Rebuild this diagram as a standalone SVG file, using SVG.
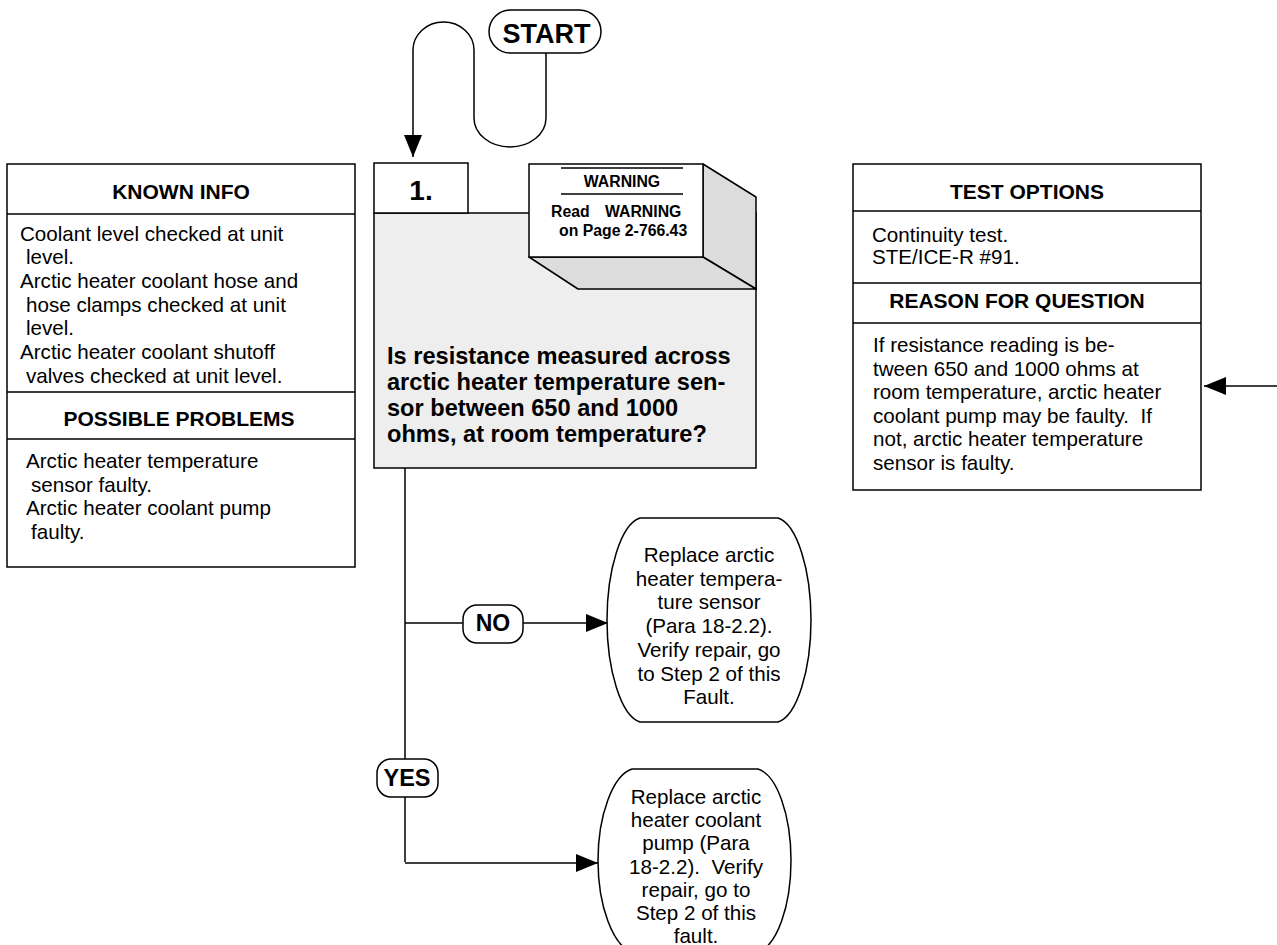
<svg xmlns="http://www.w3.org/2000/svg" width="1277" height="945" viewBox="0 0 1277 945">
  <style>
    text { font-family: "Liberation Sans", Arial, Helvetica, sans-serif; fill: #000; white-space: pre; }
    .body { font-size: 20.6px; }
    .hdr { font-size: 21px; font-weight: bold; text-anchor: middle; }
    .q { font-size: 23.6px; font-weight: bold; }
    .warn { font-size: 15.8px; font-weight: bold; }
    .pill-t { font-weight: bold; text-anchor: middle; }
    .term-t { font-size: 20.6px; text-anchor: middle; }
    .box { fill: #fff; stroke: #000; stroke-width: 1.5; }
    .line { fill: none; stroke: #000; stroke-width: 1.5; }
    .face { fill: #dcdcdc; stroke: #000; stroke-width: 1.5; stroke-linejoin: round; }
  </style>
  <defs>
    <marker id="arrow" viewBox="0 0 22 18" refX="22" refY="9" markerWidth="22" markerHeight="18" markerUnits="userSpaceOnUse" orient="auto">
      <path d="M0,0 L22,9 L0,18 Z" fill="#000"/>
    </marker>
  </defs>

  <!-- connectors -->
  <g id="connectors">
    <path class="line" d="M546,53 V118 A36,29 0 0 1 474,118 V50 A30.5,28 0 0 0 413,50 V157" marker-end="url(#arrow)"/>
    <path class="line" d="M405,468 V862"/>
    <path class="line" d="M405,623 H608" marker-end="url(#arrow)"/>
    <path class="line" d="M405,863 H598" marker-end="url(#arrow)"/>
    <path class="line" d="M1277,386 H1204" marker-end="url(#arrow)"/>
  </g>

  <!-- start terminal -->
  <g id="start">
    <rect class="box" x="489" y="10" width="112" height="43" rx="21.5"/>
    <text class="pill-t" x="546.5" y="43" font-size="27">START</text>
  </g>

  <!-- known info panel -->
  <g id="known-info">
    <rect class="box" x="7" y="164" width="348" height="403"/>
    <path class="line" d="M7,214 H355 M7,392 H355 M7,439 H355"/>
    <text class="hdr" x="181" y="199">KNOWN INFO</text>
    <text class="body" x="20" y="241">Coolant level checked at unit</text>
    <text class="body" x="26" y="264">level.</text>
    <text class="body" x="20" y="288">Arctic heater coolant hose and</text>
    <text class="body" x="26" y="312">hose clamps checked at unit</text>
    <text class="body" x="26" y="335">level.</text>
    <text class="body" x="20" y="359">Arctic heater coolant shutoff</text>
    <text class="body" x="26" y="383">valves checked at unit level.</text>
    <text class="hdr" x="179" y="426">POSSIBLE PROBLEMS</text>
    <text class="body" x="26" y="468">Arctic heater temperature</text>
    <text class="body" x="31" y="492">sensor faulty.</text>
    <text class="body" x="26" y="515">Arctic heater coolant pump</text>
    <text class="body" x="31" y="539">faulty.</text>
  </g>

  <!-- step 1 question block -->
  <g id="step1">
    <rect x="374" y="213" width="382" height="255" fill="#eeeeee" stroke="#000" stroke-width="1.5"/>
    <rect class="box" x="374" y="163" width="94" height="50"/>
    <text x="421" y="200" font-size="28" font-weight="bold" text-anchor="middle">1.</text>
    <text class="q" x="387" y="364">Is resistance measured across</text>
    <text class="q" x="387" y="390">arctic heater temperature sen-</text>
    <text class="q" x="387" y="416">sor between 650 and 1000</text>
    <text class="q" x="387" y="442">ohms, at room temperature?</text>
  </g>

  <!-- warning block -->
  <g id="warning">
    <polygon class="face" points="703,164 756,197 756,289 703,257"/>
    <polygon class="face" points="529,257 703,257 756,289 578,289"/>
    <rect class="box" x="529" y="164" width="174" height="93"/>
    <path class="line" d="M561,168 H683 M561,194 H683"/>
    <text class="warn" x="622" y="187" text-anchor="middle">WARNING</text>
    <text class="warn" y="217"><tspan x="551">Read</tspan><tspan x="605">WARNING</tspan></text>
    <text class="warn" x="559" y="236">on Page 2-766.43</text>
  </g>

  <!-- test options panel -->
  <g id="test-options">
    <rect class="box" x="853" y="164" width="348" height="326"/>
    <path class="line" d="M853,211 H1201 M853,283 H1201 M853,323 H1201"/>
    <text class="hdr" x="1027" y="199">TEST OPTIONS</text>
    <text class="body" x="872" y="242">Continuity test.</text>
    <text class="body" x="872" y="264">STE/ICE-R #91.</text>
    <text class="hdr" x="1017" y="308">REASON FOR QUESTION</text>
    <text class="body" x="873" y="352">If resistance reading is be-</text>
    <text class="body" x="873" y="375.5">tween 650 and 1000 ohms at</text>
    <text class="body" x="873" y="399">room temperature, arctic heater</text>
    <text class="body" x="873" y="422.5">coolant pump may be faulty.  If</text>
    <text class="body" x="873" y="446">not, arctic heater temperature</text>
    <text class="body" x="873" y="469.5">sensor is faulty.</text>
  </g>

  <!-- NO branch label -->
  <g id="no-label">
    <rect class="box" x="463" y="605" width="60" height="38" rx="14"/>
    <text class="pill-t" x="493" y="631" font-size="23">NO</text>
  </g>

  <!-- YES branch label -->
  <g id="yes-label">
    <rect class="box" x="377" y="759" width="61" height="38" rx="14"/>
    <text class="pill-t" x="407" y="786" font-size="23.5">YES</text>
  </g>

  <!-- replace sensor terminal -->
  <g id="replace-sensor">
    <path class="box" d="M640,518 H778 C797,524 811,570 811,620 C811,670 797,716 778,722 H640 C621,716 607,670 607,620 C607,570 621,524 640,518 Z"/>
    <text class="term-t" x="709" y="562">Replace arctic</text>
    <text class="term-t" x="709" y="585.7">heater tempera-</text>
    <text class="term-t" x="709" y="609.4">ture sensor</text>
    <text class="term-t" x="709" y="633.1">(Para 18-2.2).</text>
    <text class="term-t" x="709" y="656.8">Verify repair, go</text>
    <text class="term-t" x="709" y="680.5">to Step 2 of this</text>
    <text class="term-t" x="709" y="704.2">Fault.</text>
  </g>

  <!-- replace pump terminal -->
  <g id="replace-pump">
    <path class="box" d="M632,769 H758 C777,775 791,815 791,860.5 C791,906 777,946 758,952 H632 C613,946 598,906 598,860.5 C598,815 613,775 632,769 Z"/>
    <text class="term-t" x="696" y="804">Replace arctic</text>
    <text class="term-t" x="696" y="827.2">heater coolant</text>
    <text class="term-t" x="696" y="850.4">pump (Para</text>
    <text class="term-t" x="696" y="873.6">18-2.2).  Verify</text>
    <text class="term-t" x="696" y="896.8">repair, go to</text>
    <text class="term-t" x="696" y="920">Step 2 of this</text>
    <text class="term-t" x="696" y="943.2">fault.</text>
  </g>
</svg>
